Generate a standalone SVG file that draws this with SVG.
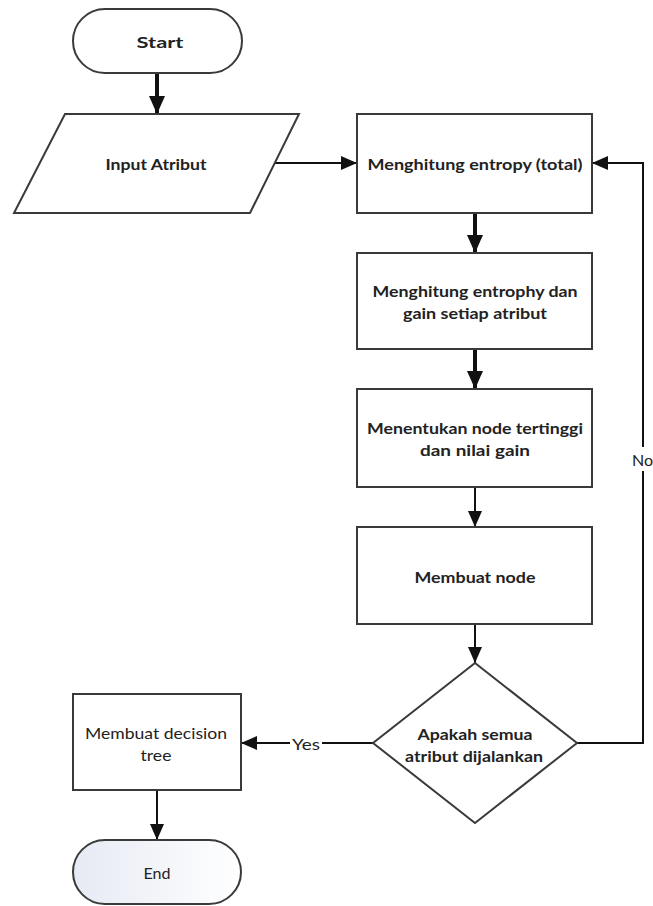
<svg xmlns="http://www.w3.org/2000/svg" width="653" height="906" viewBox="0 0 653 906">
  <defs>
    <style>
      .shape { fill: #ffffff; stroke: #3a3a3a; stroke-width: 2; }
      .lbl { font-family: Lato, "Open Sans", "Liberation Sans", sans-serif; font-size: 16px; fill: #222222; text-anchor: middle; dominant-baseline: central; }
      .b { font-weight: bold; }
      .wire { fill: none; stroke: #111111; stroke-width: 2; }
      .wire.thick { stroke-width: 4; }
    </style>
    <marker id="head" markerUnits="userSpaceOnUse" viewBox="0 0 16 14" refX="16" refY="7" markerWidth="16" markerHeight="14" orient="auto">
      <path d="M0,0 L16,7 L0,14 Z" fill="#111111"/>
    </marker>
    <marker id="headBig" markerUnits="userSpaceOnUse" viewBox="0 0 18 16" refX="18" refY="8" markerWidth="18" markerHeight="16" orient="auto">
      <path d="M0,0 L18,8 L0,16 Z" fill="#111111"/>
    </marker>
    <linearGradient id="endFill" x1="0" y1="0" x2="1" y2="0">
      <stop offset="0" stop-color="#e6eaf3"/>
      <stop offset="1" stop-color="#ffffff"/>
    </linearGradient>
  </defs>
  <rect width="653" height="906" fill="#ffffff"/>

  <!-- connectors -->
  <g id="connectors">
    <line class="wire thick" x1="157" y1="73" x2="157" y2="114" marker-end="url(#headBig)"/>
    <line class="wire" x1="274" y1="163" x2="357" y2="163" marker-end="url(#head)"/>
    <line class="wire thick" x1="475" y1="213" x2="475" y2="253" marker-end="url(#headBig)"/>
    <line class="wire thick" x1="475" y1="349" x2="475" y2="389" marker-end="url(#headBig)"/>
    <line class="wire" x1="475" y1="487" x2="475" y2="527" marker-end="url(#head)"/>
    <line class="wire" x1="475" y1="624" x2="475" y2="663" marker-end="url(#head)"/>
    <!-- No branch: back up to the entropy step -->
    <polyline class="wire" points="577,743 643,743 643,163 592,163" marker-end="url(#head)"/>
    <!-- Yes branch -->
    <line class="wire" x1="373" y1="743" x2="241" y2="743" marker-end="url(#head)"/>
    <line class="wire" x1="157" y1="790" x2="157" y2="840" marker-end="url(#head)"/>
    <rect x="290" y="734" width="32" height="18" fill="#ffffff"/>
    <text class="lbl" x="306" y="743" textLength="28" lengthAdjust="spacingAndGlyphs">Yes</text>
    <rect x="630" y="447" width="23" height="24" fill="#ffffff"/>
    <text class="lbl" x="632" y="459" style="text-anchor:start">No</text>
  </g>

  <g id="start">
    <rect class="shape" x="73" y="9" width="169" height="64" rx="32" ry="32"/>
    <text class="lbl b" x="160" y="41" textLength="47" lengthAdjust="spacingAndGlyphs">Start</text>
  </g>

  <g id="input-atribut">
    <polygon class="shape" points="65,114 299,114 250,213 14,213"/>
    <text class="lbl b" x="156" y="163" textLength="101" lengthAdjust="spacingAndGlyphs">Input Atribut</text>
  </g>

  <g id="entropy-total">
    <rect class="shape" x="357" y="114" width="235" height="99"/>
    <text class="lbl b" x="475" y="163" textLength="215" lengthAdjust="spacingAndGlyphs">Menghitung entropy (total)</text>
  </g>

  <g id="entropy-gain">
    <rect class="shape" x="357" y="253" width="235" height="96"/>
    <text class="lbl b" x="475" y="290" textLength="205" lengthAdjust="spacingAndGlyphs">Menghitung entrophy dan</text>
    <text class="lbl b" x="475" y="312" textLength="144" lengthAdjust="spacingAndGlyphs">gain setiap atribut</text>
  </g>

  <g id="node-tertinggi">
    <rect class="shape" x="357" y="389" width="235" height="98"/>
    <text class="lbl b" x="475" y="427" textLength="216" lengthAdjust="spacingAndGlyphs">Menentukan node tertinggi</text>
    <text class="lbl b" x="475" y="449" textLength="110" lengthAdjust="spacingAndGlyphs">dan nilai gain</text>
  </g>

  <g id="membuat-node">
    <rect class="shape" x="357" y="527" width="235" height="97"/>
    <text class="lbl b" x="475" y="576" textLength="121" lengthAdjust="spacingAndGlyphs">Membuat node</text>
  </g>

  <g id="decision">
    <polygon class="shape" points="475,663 577,743 475,823 373,743"/>
    <text class="lbl b" x="475" y="733" textLength="115" lengthAdjust="spacingAndGlyphs">Apakah semua</text>
    <text class="lbl b" x="474" y="755" textLength="138" lengthAdjust="spacingAndGlyphs">atribut dijalankan</text>
  </g>

  <g id="decision-tree">
    <rect class="shape" x="73" y="694" width="168" height="96"/>
    <text class="lbl" x="156" y="732" textLength="142" lengthAdjust="spacingAndGlyphs">Membuat decision</text>
    <text class="lbl" x="156" y="754" textLength="31" lengthAdjust="spacingAndGlyphs">tree</text>
  </g>

  <g id="end">
    <rect class="shape" x="73" y="840" width="168" height="64" rx="32" ry="32" style="fill:url(#endFill)"/>
    <text class="lbl" x="157" y="872" textLength="27" lengthAdjust="spacingAndGlyphs">End</text>
  </g>
</svg>
